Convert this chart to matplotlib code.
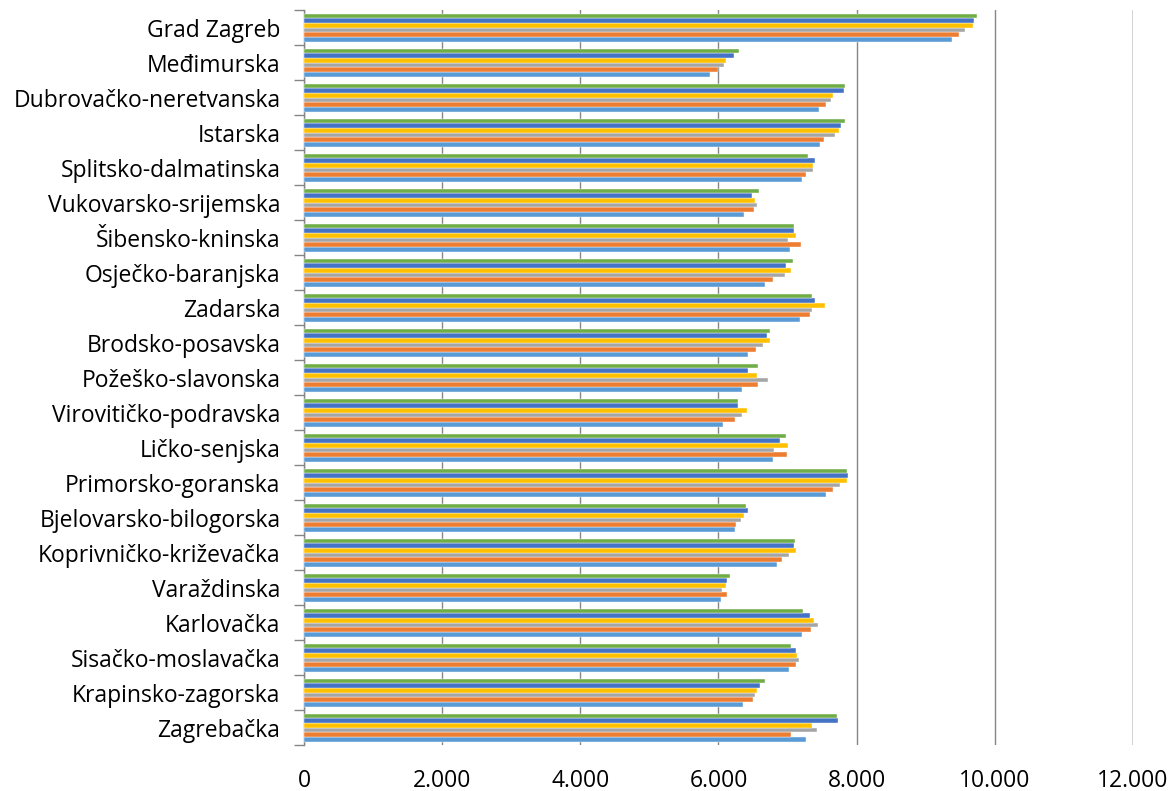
import numpy as np
import matplotlib.pyplot as plt
from matplotlib.ticker import FuncFormatter

# categories, top to bottom as in the chart
zupanije = ["Grad Zagreb", "Međimurska", "Dubrovačko-neretvanska", "Istarska",
            "Splitsko-dalmatinska", "Vukovarsko-srijemska", "Šibensko-kninska",
            "Osječko-baranjska", "Zadarska", "Brodsko-posavska", "Požeško-slavonska",
            "Virovitičko-podravska", "Ličko-senjska", "Primorsko-goranska",
            "Bjelovarsko-bilogorska", "Koprivničko-križevačka", "Varaždinska",
            "Karlovačka", "Sisačko-moslavačka", "Krapinsko-zagorska", "Zagrebačka"]

# six series, drawn bottom to top within each group
s1 = [9378, 5870, 7451, 7470, 7205, 6376, 7036, 6679, 7176, 6429, 6337,
      6072, 6795, 7552, 6236, 6843, 6039, 7210, 7017, 6352, 7267]
s2 = [9484, 6000, 7552, 7528, 7263, 6516, 7190, 6790, 7320, 6545, 6569,
      6241, 6993, 7658, 6251, 6916, 6125, 7340, 7128, 6506, 7051]
s3 = [9571, 6077, 7629, 7682, 7373, 6559, 7002, 6964, 7349, 6641, 6718,
      6337, 6800, 7764, 6323, 7017, 6053, 7441, 7171, 6530, 7422]
s4 = [9691, 6111, 7658, 7740, 7364, 6525, 7118, 7046, 7542, 6742, 6564,
      6414, 7007, 7860, 6376, 7118, 6111, 7378, 7133, 6554, 7354]
s5 = [9701, 6231, 7817, 7769, 7398, 6487, 7094, 6973, 7393, 6704, 6424,
      6289, 6887, 7875, 6424, 7094, 6125, 7330, 7118, 6598, 7730]
s6 = [9740, 6304, 7836, 7826, 7296, 6583, 7089, 7075, 7349, 6747, 6573,
      6284, 6983, 7860, 6405, 7104, 6169, 7219, 7051, 6670, 7716]

serije = [s1, s2, s3, s4, s5, s6]
boje = ['#5B9BD5', '#ED7D31', '#A5A5A5', '#FFC000', '#4472C4', '#70AD47']

plt.rcParams['font.family'] = ['Open Sans', 'DejaVu Sans']

fig = plt.figure(figsize=(11.74, 7.91), dpi=100)
ax = fig.add_axes([0.259, 0.058, 0.706, 0.929])

n = len(zupanije)
y = np.arange(n)[::-1]          # first category on top
h = 0.8 / 6
for i, (vals, c) in enumerate(zip(serije, boje)):
    ax.barh(y - 0.4 + h * (i + 0.5), vals, height=h, color=c,
            edgecolor='white', linewidth=0.3, zorder=3)

ax.set_xlim(0, 12000)
ax.set_ylim(-0.5, n - 0.5)
ax.set_xticks(np.arange(0, 12001, 2000))
ax.xaxis.set_major_formatter(FuncFormatter(lambda v, p: '{:,.0f}'.format(v).replace(',', '.')))
ax.set_yticks(y)
ax.set_yticklabels(zupanije)
ax.set_yticks(np.arange(-0.5, n, 1), minor=True)

ax.grid(axis='x', color='#868686', linewidth=1.0, zorder=0)
for s in ['top', 'bottom', 'right']:
    ax.spines[s].set_visible(False)
ax.spines['left'].set_color('#868686')
ax.spines['left'].set_linewidth(1.0)
ax.axvline(12000, color='#868686', linewidth=1.0, zorder=0)

ax.tick_params(axis='x', length=0, labelsize=16.5, pad=17)
ax.tick_params(axis='y', which='major', length=0, labelsize=16.5, pad=17)
ax.tick_params(axis='y', which='minor', length=7, color='#868686', width=1.0)

plt.savefig('out.png')
